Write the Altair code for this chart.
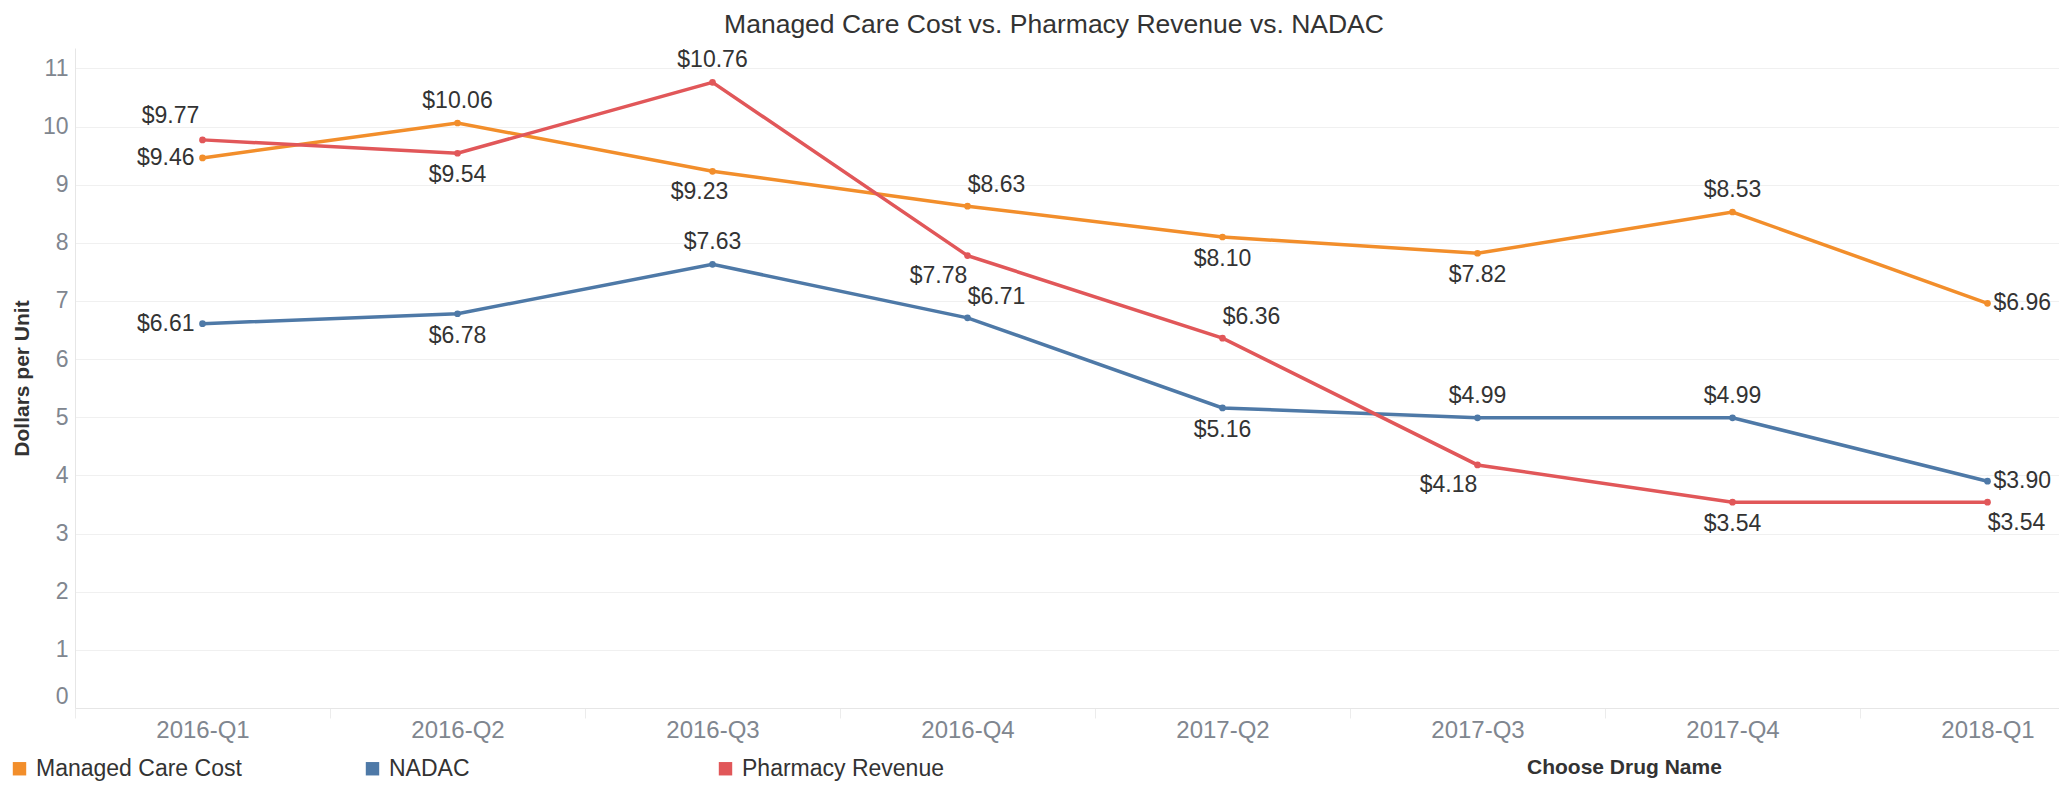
import altair as alt
import pandas as pd

quarters = ["2016-Q1", "2016-Q2", "2016-Q3", "2016-Q4", "2017-Q2", "2017-Q3", "2017-Q4", "2018-Q1"]
series_names = ["Managed Care Cost", "NADAC", "Pharmacy Revenue"]
managed_care_cost = [9.46, 10.06, 9.23, 8.63, 8.10, 7.82, 8.53, 6.96]
nadac = [6.61, 6.78, 7.63, 6.71, 5.16, 4.99, 4.99, 3.90]
pharmacy_revenue = [9.77, 9.54, 10.76, 7.78, 6.36, 4.18, 3.54, 3.54]

# label placement keyword for each point (style lookup below)
managed_care_pos = ["left", "above", "below_l_small", "above_r", "below", "below", "above", "right"]
nadac_pos = ["left", "below", "above", "above_r", "below", "above", "above", "right"]
pharmacy_pos = ["above_l", "below", "above", "below_l", "above_r", "below_l", "below", "below_r"]

colors = ["#f28e2b", "#4e79a7", "#e15759"]
FONT = "Liberation Sans, Arial, sans-serif"
AXIS_GREY = "#80868f"

rows = []
for name, vals, poss in [
    ("Managed Care Cost", managed_care_cost, managed_care_pos),
    ("NADAC", nadac, nadac_pos),
    ("Pharmacy Revenue", pharmacy_revenue, pharmacy_pos),
]:
    for q, v, p in zip(quarters, vals, poss):
        rows.append({"Quarter": q, "Series": name, "Value": v, "pos": p})
df = pd.DataFrame(rows)

placements = {
    "left": dict(dx=-8, dy=0, align="right"),
    "right": dict(dx=6, dy=0, align="left"),
    "above": dict(dx=0, dy=-22, align="center"),
    "below": dict(dx=0, dy=22, align="center"),
    "above_l": dict(dx=-32, dy=-24, align="center"),
    "above_r": dict(dx=29, dy=-21, align="center"),
    "below_l": dict(dx=-29, dy=20, align="center"),
    "below_l_small": dict(dx=-13, dy=21, align="center"),
    "below_r": dict(dx=29, dy=21, align="center"),
}

x_enc = alt.X(
    "Quarter:N",
    sort=quarters,
    bandPosition=0.5,
    scale=alt.Scale(type="band", range=[0, 2040], paddingInner=0, paddingOuter=0),
    axis=alt.Axis(
        title=None,
        labelAngle=0,
        labelFont=FONT,
        labelFontSize=24,
        labelColor=AXIS_GREY,
        labelPadding=0,
        tickBand="extent",
        ticks=True,
        tickSize=10,
        tickColor="#ececec",
        domainColor="#e6e6e6",
        grid=False,
    ),
)
y_enc = alt.Y(
    "Value:Q",
    scale=alt.Scale(domain=[0, 11.35], nice=False, zero=True),
    axis=alt.Axis(
        title="Dollars per Unit",
        titleFont=FONT,
        titleFontSize=21,
        titleFontWeight="bold",
        titleColor="#333333",
        titleAngle=270,
        titleX=-53,
        titleY=330,
        titleAlign="center",
        titleBaseline="middle",
        values=list(range(0, 12)),
        labelFont=FONT,
        labelFontSize=23,
        labelColor=AXIS_GREY,
        labelPadding=7,
        labelFlush=True,
        ticks=False,
        gridColor="#f0f0f0",
        domainColor="#e6e6e6",
    ),
)
color_enc = alt.Color(
    "Series:N",
    scale=alt.Scale(domain=series_names, range=colors),
    legend=alt.Legend(
        title=None,
        orient="none",
        direction="horizontal",
        legendX=-67,
        legendY=709,
        symbolType="square",
        symbolSize=180,
        symbolStrokeWidth=0,
        symbolOpacity=1,
        labelFont=FONT,
        labelFontSize=23,
        labelColor="#333333",
        labelOffset=5,
        labelLimit=400,
        gridAlign="all",
        columnPadding=119,
    ),
)

base = alt.Chart(df)
lines = base.mark_line(strokeWidth=3.5).encode(x=x_enc, y=y_enc, color=color_enc)
points = base.mark_circle(size=45, opacity=1).encode(
    x=x_enc, y=y_enc, color=alt.Color("Series:N", scale=alt.Scale(domain=series_names, range=colors), legend=None)
)

label_layers = []
for name, st in placements.items():
    label_layers.append(
        base.transform_filter(alt.datum.pos == name)
        .transform_calculate(label="'$' + format(datum.Value, '.2f')")
        .mark_text(font=FONT, fontSize=23, color="#333333", baseline="middle", **st)
        .encode(x=x_enc, y=y_enc, text="label:N")
    )

drug = alt.Chart(pd.DataFrame({"t": ["Choose Drug Name"]})).mark_text(
    font=FONT, fontSize=21, fontWeight="bold", color="#333333", align="left", baseline="middle"
).encode(x=alt.value(1452), y=alt.value(720), text="t:N")

chart = (
    alt.layer(lines, points, *label_layers, drug)
    .properties(
        width=1984,
        height=660,
        title=alt.TitleParams(
            "Managed Care Cost vs. Pharmacy Revenue vs. NADAC",
            font=FONT,
            fontSize=26.5,
            fontWeight="normal",
            color="#333333",
            anchor="middle",
            offset=10,
            dx=-13,
        ),
        autosize=alt.AutoSizeParams(type="none"),
        padding={"left": 67, "top": 40, "right": 0, "bottom": 74},
    )
    .configure_view(stroke=None)
)

chart.save("out.html", embed_options={"renderer": "svg", "actions": False})
